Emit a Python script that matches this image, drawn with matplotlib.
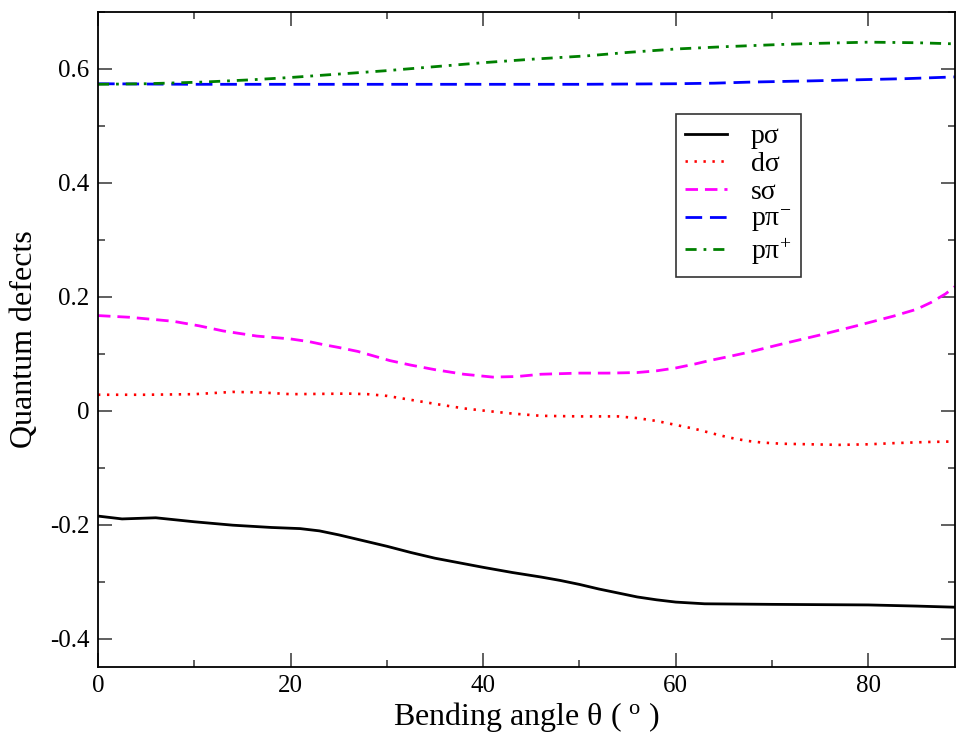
import matplotlib
matplotlib.use("Agg")
import matplotlib.pyplot as plt
from matplotlib.ticker import MultipleLocator

plt.rcParams['font.family'] = ['Liberation Serif', 'DejaVu Serif']
plt.rcParams['mathtext.fontset'] = 'custom'
plt.rcParams['mathtext.rm'] = 'Liberation Serif'
plt.rcParams['mathtext.it'] = 'Liberation Serif:italic'

# bending angle (degrees) for each series
x_ps = [0, 2.5, 6, 10, 14, 18, 21, 23, 25, 27.5, 30, 32.5, 35, 37.5, 40, 43, 46, 48, 50,
        52, 54, 56, 58, 60, 63, 70, 80, 85, 89]
p_sigma = [-0.185, -0.19, -0.188, -0.195, -0.201, -0.205, -0.207, -0.211, -0.218, -0.228,
           -0.238, -0.249, -0.259, -0.267, -0.275, -0.284, -0.292, -0.298, -0.305,
           -0.313, -0.32, -0.327, -0.332, -0.336, -0.339, -0.34, -0.341, -0.343, -0.345]

x_ds = [0, 5, 10, 14, 17, 20, 26, 28, 30, 32.5, 35, 38, 40.7, 43, 46, 50, 54, 56, 58, 60,
        62, 63.6, 65.5, 67.4, 69, 71, 74, 77, 80, 82.6, 86, 89]
d_sigma = [0.028, 0.028, 0.029, 0.033, 0.032, 0.029, 0.03, 0.029, 0.026, 0.019, 0.012,
           0.004, -0.001, -0.005, -0.009, -0.01, -0.01, -0.013, -0.018, -0.025, -0.032,
           -0.039, -0.047, -0.053, -0.056, -0.058, -0.059, -0.06, -0.059, -0.057, -0.055,
           -0.054]

x_ss = [0, 3.3, 7.8, 10.5, 13, 16.5, 20, 22, 23.4, 25, 27, 30.3, 32.5, 35, 38, 41, 43.5,
        46, 50, 53, 56, 58, 60, 62, 63.5, 65.5, 67.4, 71, 75, 79, 82.6, 85, 86.5, 88, 89]
s_sigma = [0.167, 0.164, 0.157, 0.149, 0.14, 0.131, 0.126, 0.121, 0.116, 0.111, 0.104,
           0.088, 0.08, 0.072, 0.064, 0.059, 0.06, 0.064, 0.066, 0.066, 0.067, 0.07,
           0.075, 0.082, 0.088, 0.095, 0.102, 0.117, 0.133, 0.15, 0.166, 0.178, 0.19,
           0.205, 0.218]

x_pm = [0, 10, 20, 30, 40, 50, 60, 64, 68, 74, 79, 84, 89]
p_pi_minus = [0.574, 0.573, 0.573, 0.573, 0.573, 0.573, 0.574, 0.575, 0.577, 0.579,
              0.581, 0.583, 0.586]

x_pp = [0, 5, 11, 16, 20, 25, 30, 35, 40, 45, 50.8, 55, 60, 65, 71, 75, 80, 85, 89]
p_pi_plus = [0.573, 0.574, 0.577, 0.581, 0.585, 0.591, 0.597, 0.604, 0.611, 0.617,
             0.623, 0.629, 0.635, 0.639, 0.643, 0.645, 0.647, 0.646, 0.644]

labels = ['p\u03c3', 'd\u03c3', 's\u03c3', 'p\u03c0$^{-}$', 'p\u03c0$^{+}$']

fig = plt.figure(figsize=(9.56, 7.39), dpi=100)
ax = fig.add_axes([0.1025, 0.0974, 0.8965, 0.8864])

lw = 2.0
ax.plot(x_ps, p_sigma, color='black', lw=lw, label=labels[0])
ax.plot(x_ds, d_sigma, color='red', lw=1.9, linestyle=(0, (0.9, 2.5)), label=labels[1])
ax.plot(x_ss, s_sigma, color='magenta', lw=lw, linestyle=(0, (4.5, 2.5)), label=labels[2])
ax.plot(x_pm, p_pi_minus, color='blue', lw=lw, linestyle=(0, (6, 2.8)), label=labels[3])
ax.plot(x_pp, p_pi_plus, color='green', lw=lw, linestyle=(0, (4, 2.5, 1, 2.5)),
        label=labels[4])

ax.set_xlim(0, 89)
ax.set_ylim(-0.45, 0.7)
ax.xaxis.set_major_locator(MultipleLocator(20))
ax.xaxis.set_minor_locator(MultipleLocator(10))
ax.yaxis.set_minor_locator(MultipleLocator(0.1))
ax.set_yticks([-0.4, -0.2, 0, 0.2, 0.4, 0.6])
ax.set_yticklabels(['-0.4', '-0.2', '0', '0.2', '0.4', '0.6'])

ax.tick_params(which='both', direction='in', top=True, right=True, labelsize=18,
               width=1.2, color='#444444')
ax.tick_params(which='major', length=10, pad=6)
ax.tick_params(which='minor', length=5)
for sp in ax.spines.values():
    sp.set_linewidth(1.3)

ax.set_xlabel('Bending angle \u03b8 ( $^{\\mathrm{o}}$ )', fontsize=23, labelpad=2)
ax.set_ylabel('Quantum defects', fontsize=23, labelpad=8)

leg = ax.legend(loc='upper left', bbox_to_anchor=(0.674, 0.844), fontsize=20,
                frameon=True, fancybox=False, edgecolor='black', handlelength=1.5,
                handletextpad=0.85, labelspacing=0.08, borderpad=0.35, borderaxespad=0)
leg.get_frame().set_linewidth(1.2)

fig.savefig('out.png', dpi=100)
